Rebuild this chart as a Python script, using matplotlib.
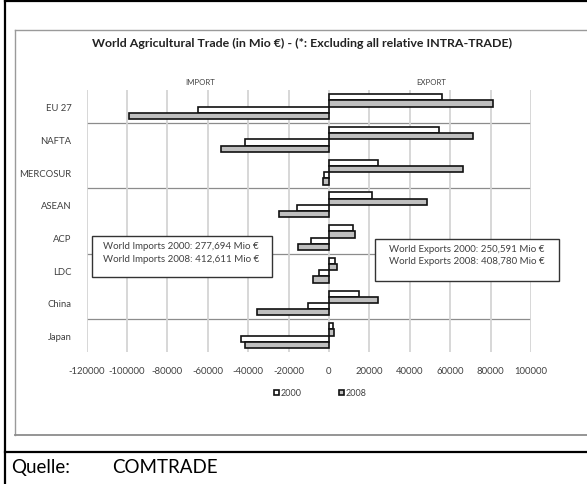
import matplotlib
matplotlib.use("Agg")
import matplotlib.pyplot as plt
from matplotlib.lines import Line2D
from matplotlib.patches import Rectangle
from matplotlib.ticker import FuncFormatter

plt.rcParams['font.family'] = ['Lato', 'DejaVu Sans']
plt.rcParams['axes.unicode_minus'] = False

# data (Mio EUR)
categories = ["EU 27", "NAFTA", "MERCOSUR", "ASEAN", "ACP", "LDC", "China", "Japan"]
export_2000 = [56000, 54600, 24400, 21100, 11700, 3100, 15000, 2100]
export_2008 = [81300, 71400, 66200, 48400, 12900, 3800, 24400, 2500]
import_2000 = [-64700, -41600, -2700, -16000, -9100, -5100, -10500, -43600]
import_2008 = [-99000, -53500, -3000, -24800, -15200, -7800, -35700, -41600]
xticks = [-120000, -100000, -80000, -60000, -40000, -20000, 0, 20000, 40000, 60000, 80000, 100000]

W, H = 587, 485
fig = plt.figure(figsize=(W / 100, H / 100), dpi=100)

def fx(x):
    return x / W

def fy(y):
    return 1 - y / H

# plot area in pixel coords: x 86.6..531, y 91.3..353
ax = fig.add_axes([fx(86.6), fy(353), fx(531) - fx(86.6), fy(91.3) - fy(353)])

pos = list(range(len(categories)))
h = 0.19
white = "#ffffff"
grey = "#bfbfbf"
edge = "#111111"
lw = 1.2

b1 = ax.barh([p - 1.5 * h for p in pos], export_2000, height=h, color=white, edgecolor=edge, linewidth=lw, label="2000", zorder=3)
b2 = ax.barh([p - 0.5 * h for p in pos], export_2008, height=h, color=grey, edgecolor=edge, linewidth=lw, label="2008", zorder=3)
ax.barh([p + 0.5 * h for p in pos], import_2000, height=h, color=white, edgecolor=edge, linewidth=lw, zorder=3)
ax.barh([p + 1.5 * h for p in pos], import_2008, height=h, color=grey, edgecolor=edge, linewidth=lw, zorder=3)

ax.set_xlim(-120000, 100000)
ax.set_ylim(len(categories) - 0.5, -0.5)
ax.set_xticks(xticks)
ax.xaxis.set_major_formatter(FuncFormatter(lambda v, p: "%d" % v))
ax.set_yticks(pos)
ax.set_yticklabels(categories)
ax.tick_params(axis="both", length=0, labelsize=6.8, colors="#404040")
ax.tick_params(axis="x", pad=10)
ax.tick_params(axis="y", pad=11)

for s in ax.spines.values():
    s.set_visible(False)

ax.grid(axis="x", color="#d4d4d4", linewidth=1.3, zorder=0)
for yb in [0.5, 2.5, 4.5, 6.5]:
    ax.axhline(yb, color="#8c8c8c", linewidth=0.9, zorder=1)

# legend below
fig.legend(handles=[b1, b2], labels=["2000", "2008"], loc="center",
           bbox_to_anchor=(fx(320), fy(394)), ncol=2, frameon=False,
           fontsize=6.5, handlelength=0.55, handleheight=0.55, handletextpad=0.15,
           columnspacing=4.2, labelcolor="#404040")

# titles
fig.text(fx(302), fy(43), "World Agricultural Trade (in Mio €) - (*: Excluding all relative INTRA-TRADE)",
         ha="center", va="center", fontsize=8.9, fontweight="bold", color="#222222")
fig.text(fx(200), fy(82.7), "IMPORT", ha="center", va="center", fontsize=5.6, color="#404040")
fig.text(fx(431), fy(82.7), "EXPORT", ha="center", va="center", fontsize=5.6, color="#404040")

# text boxes with world totals
fig.add_artist(Rectangle((fx(92.3), fy(277.7)), fx(272) - fx(92.3), fy(236.7) - fy(277.7),
                         transform=fig.transFigure, facecolor="white", edgecolor="#333333", linewidth=1.0, zorder=5))
fig.text(fx(103), fy(247), "World Imports 2000: 277,694 Mio €", fontsize=7, va="center", color="#404040", zorder=6)
fig.text(fx(103), fy(259), "World Imports 2008: 412,611 Mio €", fontsize=7, va="center", color="#404040", zorder=6)

fig.add_artist(Rectangle((fx(375), fy(281.7)), fx(558.7) - fx(375), fy(240) - fy(281.7),
                         transform=fig.transFigure, facecolor="white", edgecolor="#333333", linewidth=1.0, zorder=5))
fig.text(fx(389), fy(250), "World Exports 2000: 250,591 Mio €", fontsize=7, va="center", color="#404040", zorder=6)
fig.text(fx(389), fy(261), "World Exports 2008: 408,780 Mio €", fontsize=7, va="center", color="#404040", zorder=6)

# chart area frame (grey) and page frame (black)
fig.add_artist(Line2D([fx(15), fx(15)], [fy(31), fy(436)], color="#9a9a9a", linewidth=1.0))
fig.add_artist(Line2D([fx(15), 1], [fy(31), fy(31)], color="#9a9a9a", linewidth=1.0))
fig.add_artist(Line2D([fx(15), 1], [fy(436), fy(436)], color="#8c8c8c", linewidth=1.3))

fig.add_artist(Line2D([fx(4.5), fx(4.5)], [0, 1], color="black", linewidth=1.6))
fig.add_artist(Line2D([fx(4.5), 1], [fy(1.5), fy(1.5)], color="black", linewidth=1.6))
fig.add_artist(Line2D([fx(4.5), 1], [fy(453), fy(453)], color="black", linewidth=1.6))

fig.text(fx(11), fy(468), "Quelle:", fontsize=13.5, va="center", color="black")
fig.text(fx(112), fy(468), "COMTRADE", fontsize=13.5, va="center", color="black")

fig.savefig("out.png", dpi=100)
